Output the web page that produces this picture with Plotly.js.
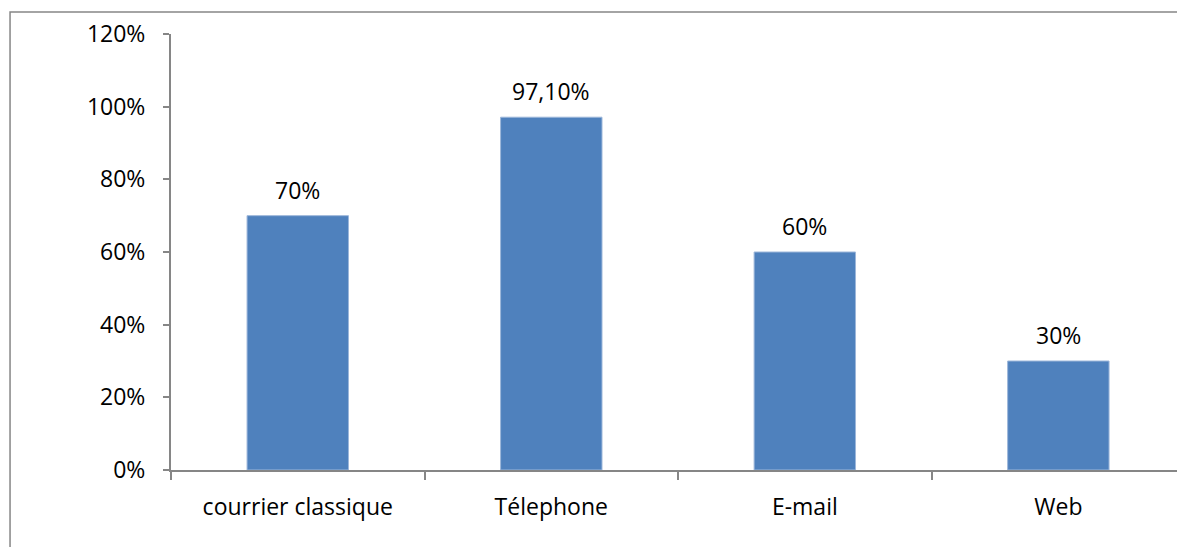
<!DOCTYPE html>
<html><head><meta charset="utf-8">
<script src="https://cdn.plot.ly/plotly-3.0.1.min.js"></script>
<style>html,body{margin:0;padding:0;overflow:hidden;background:#fff}#chart{width:1177px;height:547px}</style>
</head><body><div id="chart"></div>
<script>
const categories = ["courrier classique", "Télephone", "E-mail", "Web"];
const values = [0.70, 0.971, 0.60, 0.30];
const labels = ["70%", "97,10%", "60%", "30%"];
const yTicks = [0, 0.2, 0.4, 0.6, 0.8, 1.0, 1.2];

const font = {family: "Open Sans, Noto Sans, sans-serif", size: 23, color: "#000"};
const trace = {
  type: "bar", x: categories, y: values,
  marker: {color: "#4F81BD", line: {color: "#9DB7DA", width: 1}},
  hoverinfo: "skip"
};
const annotations = categories.map((c, i) => ({
  x: c, y: values[i], text: labels[i], showarrow: false,
  yanchor: "bottom", yshift: 8, font: font
}));
const layout = {
  width: 1177, height: 547,
  margin: {l: 171, r: 0, t: 34, b: 77},
  paper_bgcolor: "#fff", plot_bgcolor: "#fff",
  bargap: 0.6, showlegend: false,
  font: font,
  xaxis: {
    range: [-0.5, 3.468], showline: true, linecolor: "#868686", linewidth: 2,
    ticks: "outside", tickson: "boundaries", ticklen: 8, tickcolor: "#868686", tickwidth: 2,
    showgrid: false, zeroline: false, tickfont: font, ticklabelstandoff: 15
  },
  yaxis: {
    range: [0, 1.2], tickvals: yTicks, tickformat: ".0%",
    showline: true, linecolor: "#868686", linewidth: 2,
    ticks: "outside", ticklen: 6, tickcolor: "#868686", tickwidth: 2,
    showgrid: false, zeroline: false, tickfont: font, ticklabelstandoff: 13
  },
  annotations: annotations,
  shapes: [{
    type: "rect", xref: "paper", yref: "paper",
    x0: -0.16, x1: 1.2, y0: -0.3, y1: 1.0505,
    line: {color: "#868686", width: 1.5}, fillcolor: "rgba(0,0,0,0)", layer: "above"
  }]
};
Plotly.newPlot("chart", [trace], layout, {displayModeBar: false, staticPlot: true});
</script></body></html>
